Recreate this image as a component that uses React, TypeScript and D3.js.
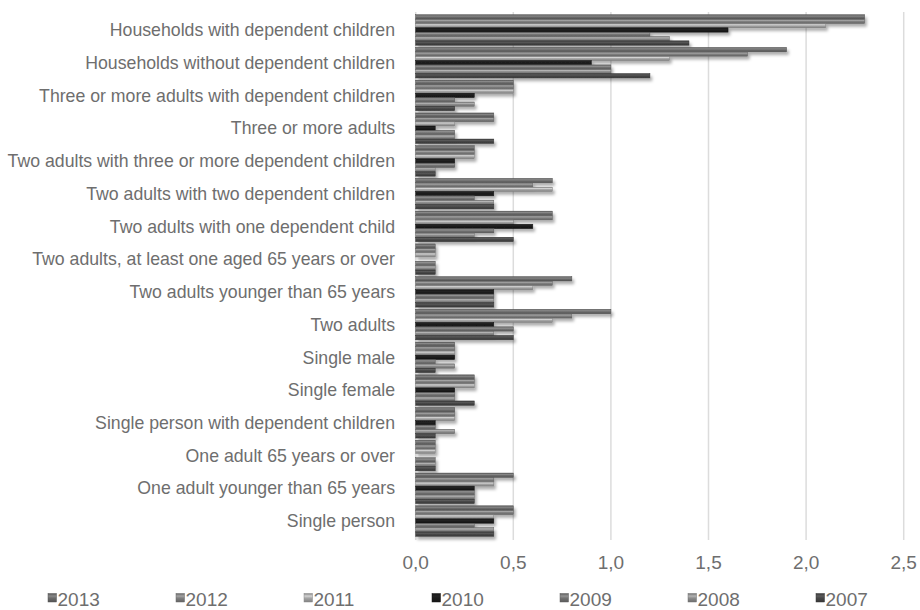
import React from "react";
import * as d3 from "d3";

const categories = [
  "Households with dependent children",
  "Households without dependent children",
  "Three or more adults with dependent children",
  "Three or more adults",
  "Two adults with three or more dependent children",
  "Two adults with two dependent children",
  "Two adults with one dependent child",
  "Two adults, at least one aged 65 years or over",
  "Two adults younger than 65 years",
  "Two adults",
  "Single male",
  "Single female",
  "Single person with dependent children",
  "One adult 65 years or over",
  "One adult younger than 65 years",
  "Single person",
];

const years = ["2013", "2012", "2011", "2010", "2009", "2008", "2007"];

const v2013 = [2.3, 1.9, 0.5, 0.4, 0.3, 0.7, 0.7, 0.1, 0.8, 1.0, 0.2, 0.3, 0.2, 0.1, 0.5, 0.5];
const v2012 = [2.3, 1.7, 0.5, 0.4, 0.3, 0.6, 0.7, 0.1, 0.7, 0.8, 0.2, 0.3, 0.2, 0.1, 0.4, 0.5];
const v2011 = [2.1, 1.3, 0.5, 0.2, 0.3, 0.7, 0.5, 0.1, 0.6, 0.7, 0.2, 0.3, 0.2, 0.1, 0.4, 0.4];
const v2010 = [1.6, 0.9, 0.3, 0.1, 0.2, 0.4, 0.6, null, 0.4, 0.4, 0.2, 0.2, 0.1, null, 0.3, 0.4];
const v2009 = [1.2, 1.0, 0.2, 0.2, 0.2, 0.3, 0.4, 0.1, 0.4, 0.5, 0.1, 0.2, 0.1, 0.1, 0.3, 0.3];
const v2008 = [1.3, 1.0, 0.3, 0.2, 0.1, 0.4, 0.3, 0.1, 0.4, 0.4, 0.2, 0.2, 0.2, 0.1, 0.3, 0.4];
const v2007 = [1.4, 1.2, 0.2, 0.4, 0.1, 0.4, 0.5, 0.1, 0.4, 0.5, 0.1, 0.3, 0.1, 0.1, 0.3, 0.4];

const seriesValues: (number | null)[][] = [v2013, v2012, v2011, v2010, v2009, v2008, v2007];
const seriesColors = ["#6b6b6b", "#7f7f7f", "#a5a5a5", "#1c1c1c", "#737373", "#8c8c8c", "#474747"];

const xTicks = [0, 0.5, 1.0, 1.5, 2.0, 2.5];

const W = 920;
const H = 610;
const FONT = "'Liberation Sans', Arial, sans-serif";
const TEXT = "#6e6e6e";

export default function App() {
  const x = d3.scaleLinear().domain([0, 2.5]).range([415.7, 903.7]);
  const y = d3
    .scaleBand<string>()
    .domain(categories)
    .range([13.6, 537.4])
    .paddingInner(0.07)
    .paddingOuter(0.035);
  const ys = d3
    .scaleBand<string>()
    .domain(years)
    .range([0, y.bandwidth()]);
  const legendX = d3.scalePoint<string>().domain(years).range([48, 816]);
  const fmt = (v: number) => d3.format(".1f")(v).replace(".", ",");

  const grad = (c: string) => {
    const base = d3.color(c)!;
    return [
      { o: "0%", c: base.darker(0.6).formatHex() },
      { o: "30%", c: base.brighter(0.7).formatHex() },
      { o: "55%", c: base.formatHex() },
      { o: "100%", c: base.darker(0.7).formatHex() },
    ];
  };

  return (
    <svg
      width={W}
      height={H}
      style={{ position: "absolute", left: 0, top: 0, background: "#fff" }}
      fontFamily={FONT}
    >
      <defs>
        {seriesColors.map((c, i) => (
          <linearGradient key={i} id={`g${i}`} x1="0" y1="0" x2="0" y2="1">
            {grad(c).map((s) => (
              <stop key={s.o} offset={s.o} stopColor={s.c} />
            ))}
          </linearGradient>
        ))}
        <filter id="shadow" x="-5%" y="-50%" width="115%" height="250%">
          <feDropShadow dx="2" dy="3" stdDeviation="1.8" floodColor="#000" floodOpacity="0.32" />
        </filter>
      </defs>

      {/* gridlines */}
      {xTicks.map((t) => (
        <line
          key={t}
          x1={x(t)}
          x2={x(t)}
          y1={12}
          y2={540}
          stroke="#dcdcdc"
          strokeWidth={1.5}
        />
      ))}

      {/* bars */}
      <g filter="url(#shadow)">
        {categories.map((cat, ci) =>
          years.map((yr, si) => {
            const v = seriesValues[si][ci];
            if (v == null) return null;
            return (
              <rect
                key={cat + yr}
                x={x(0)}
                y={(y(cat) as number) + (ys(yr) as number)}
                width={x(v) - x(0)}
                height={ys.bandwidth()}
                fill={`url(#g${si})`}
                stroke={d3.color(seriesColors[si])!.darker(0.8).formatHex()}
                strokeWidth={0.5}
              />
            );
          })
        )}
      </g>

      {/* category labels */}
      {categories.map((cat) => (
        <text
          key={cat}
          x={395}
          y={(y(cat) as number) + y.bandwidth() / 2}
          dy="0.35em"
          textAnchor="end"
          fontSize={17.7}
          fill={TEXT}
        >
          {cat}
        </text>
      ))}

      {/* tick labels */}
      {xTicks.map((t) => (
        <text key={t} x={x(t)} y={569} textAnchor="middle" fontSize={19} fill={TEXT}>
          {fmt(t)}
        </text>
      ))}

      {/* legend */}
      {years.map((yr, i) => {
        const lx = legendX(yr) as number;
        return (
          <g key={yr}>
            <rect
              x={lx}
              y={593.5}
              width={8.5}
              height={8.5}
              fill={`url(#g${i})`}
              stroke={d3.color(seriesColors[i])!.darker(0.5).formatHex()}
              strokeWidth={0.5}
            />
            <text x={lx + 9.5} y={605.5} fontSize={19} fill={TEXT}>
              {yr}
            </text>
          </g>
        );
      })}
    </svg>
  );
}
